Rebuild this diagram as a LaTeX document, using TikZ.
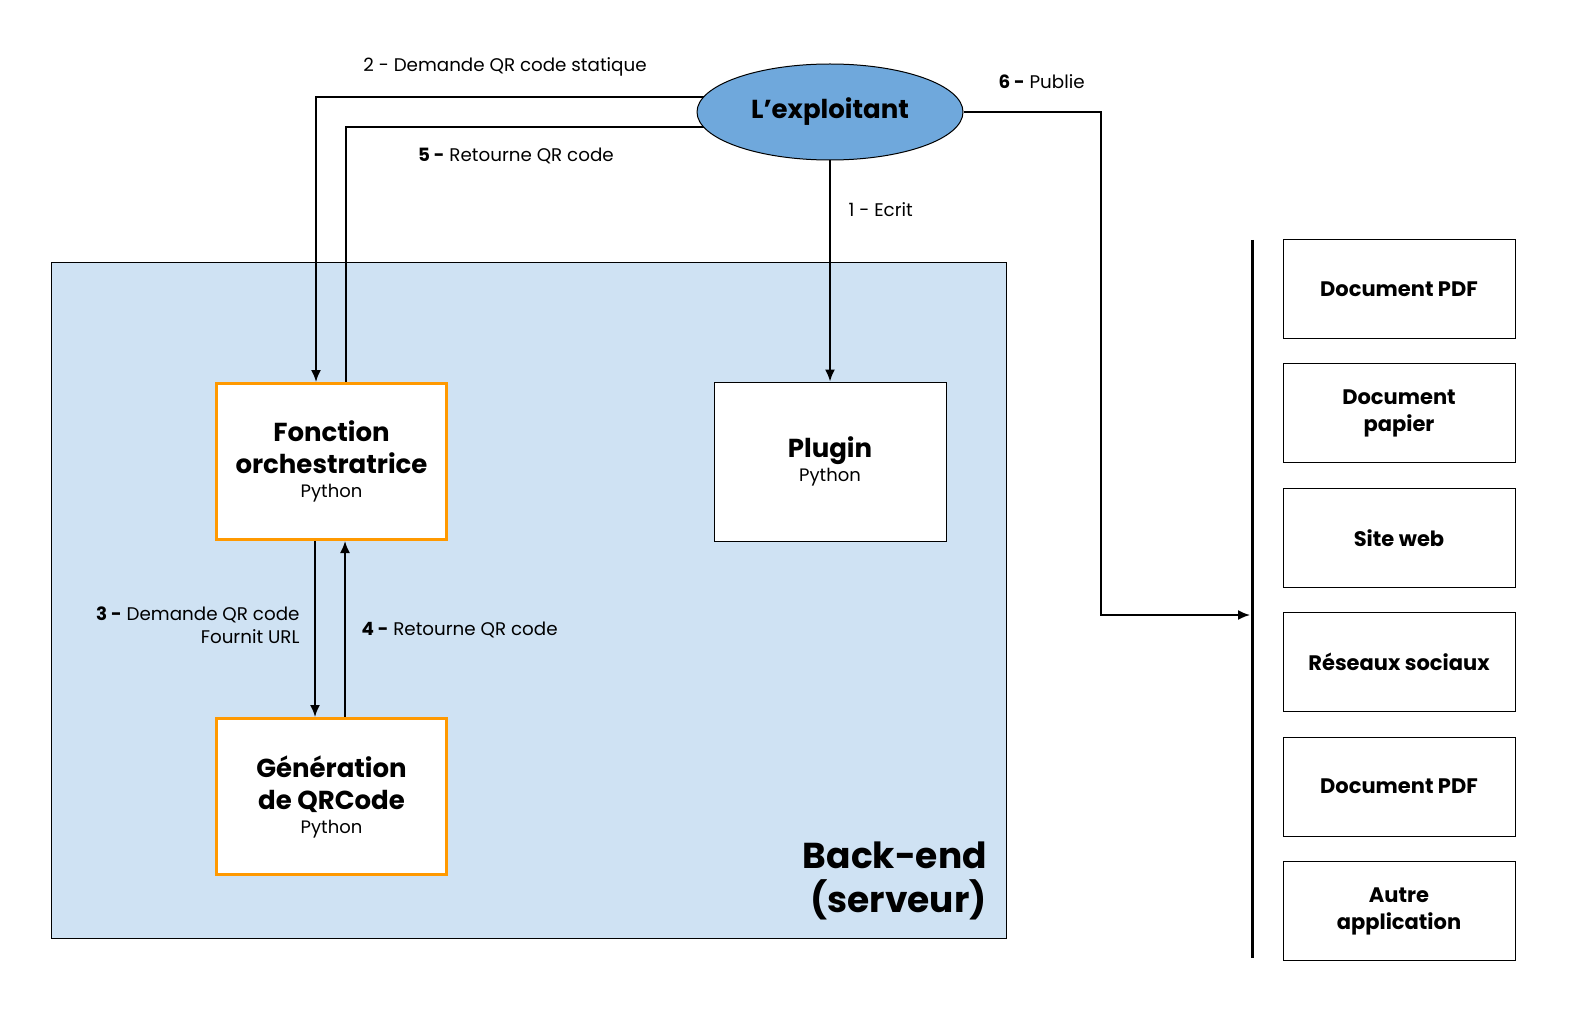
\documentclass[tikz,border=0pt]{standalone}
\usepackage{fontspec}
\setmainfont{Poppins}
\usetikzlibrary{positioning,shapes.geometric,arrows.meta}
\definecolor{backblue}{HTML}{CFE2F3}
\definecolor{actorblue}{HTML}{6FA8DC}
\definecolor{fnorange}{HTML}{FF9900}
\pgfdeclarelayer{bg}
\pgfdeclarelayer{links}
\pgfsetlayers{bg,links,main}
\newcommand{\titlef}{\fontsize{26}{32}\selectfont\bfseries}
\newcommand{\subf}{\fontsize{18}{24}\selectfont\mdseries}

\begin{document}
\begin{tikzpicture}[x=1pt,y=-1pt,
  fn/.style={draw=fnorange, line width=3pt, fill=white, minimum width=230pt, minimum height=156pt, align=center, font=\titlef},
  plug/.style={draw, line width=1pt, fill=white, minimum width=232pt, minimum height=159pt, align=center, font=\titlef},
  outbox/.style={draw, line width=1pt, fill=white, minimum width=232pt, minimum height=99pt, align=center, font=\fontsize{21}{27}\selectfont\bfseries},
  lbl/.style={font=\fontsize{18.3}{23}\selectfont},
  link/.style={line width=1.8pt},
  tip/.style={-{Latex[length=12pt,width=10pt]}}]
\useasboundingbox (0,0) rectangle (1581,1016);

\def\xo{331.5}
\def\xp{830}
\def\xr{1399}
\def\ya{112}
\def\yb{461.5}
\def\yc{796.5}

\begin{pgfonlayer}{bg}
\node (backend) [draw, line width=1pt, fill=backblue, minimum width=955pt, minimum height=676pt, anchor=north west] at (51,262) {};
\end{pgfonlayer}
\node (backlbl) [anchor=south east, align=right, font=\fontsize{36}{44}\selectfont\bfseries, inner sep=0pt] at (987,920) {Back-end\\(serveur)};

\node (exploitant) [ellipse, draw, line width=1pt, fill=actorblue, minimum width=266pt, minimum height=96pt, font=\fontsize{26}{30}\selectfont\bfseries] at (\xp, \ya) {L’exploitant};

\node (orch) [fn] at (\xo, \yb) {Fonction\\orchestratrice\\[-8pt]{\subf Python}};
\node (gen) [fn] at (\xo, \yc) {Génération\\de QRCode\\[-8pt]{\subf Python}};
\node (plugin) [plug] at (\xp, \yb) {Plugin\\[-8pt]{\subf Python}};

\foreach \txt [count=\i] in {{Document PDF},{Document\\papier},{Site web},{Réseaux sociaux},{Document PDF},{Autre\\application}}
  \node (out\i) [outbox] at (\xr, {289 + (\i-1)*124.4}) {\txt};

\coordinate (bustop) at (1252,240);
\coordinate (busbot) at (1252,958);
\coordinate (turn) at (1101,615);
\coordinate (busin) at (1250,615);
\draw[line width=3pt] (bustop) -- (busbot);

\begin{pgfonlayer}{links}
\draw[link,tip] ([yshift=15pt]exploitant.center) -| ([xshift=-15.5pt]orch.north);
\draw[link] ([xshift=14.5pt]orch.north) |- ([yshift=-15pt]exploitant.center);
\draw[link,tip] (exploitant) -- (plugin);
\draw[link,tip] (exploitant.east) -| (turn) -- (busin);
\draw[link,tip] ([xshift=-16.5pt]orch.south) -- ([xshift=-16.5pt]gen.north);
\draw[link,tip] ([xshift=13.5pt]gen.north) -- ([xshift=13.5pt]orch.south);
\end{pgfonlayer}

\node (l2) [lbl] at (505,67) {2 - Demande QR code statique};
\node (l5) [lbl] at (516,156) {\textbf{5 -} Retourne QR code};
\node (l1) [lbl, anchor=west] at (845,210) {1 - Ecrit};
\node (l6) [lbl, anchor=west] at (995,82) {\textbf{6 -} Publie};
\node (l3) [lbl, anchor=east, align=right] at (303,625) {\textbf{3 -} Demande QR code\\Fournit URL};
\node (l4) [lbl, anchor=west] at (358,630) {\textbf{4 -} Retourne QR code};
\end{tikzpicture}
\end{document}
